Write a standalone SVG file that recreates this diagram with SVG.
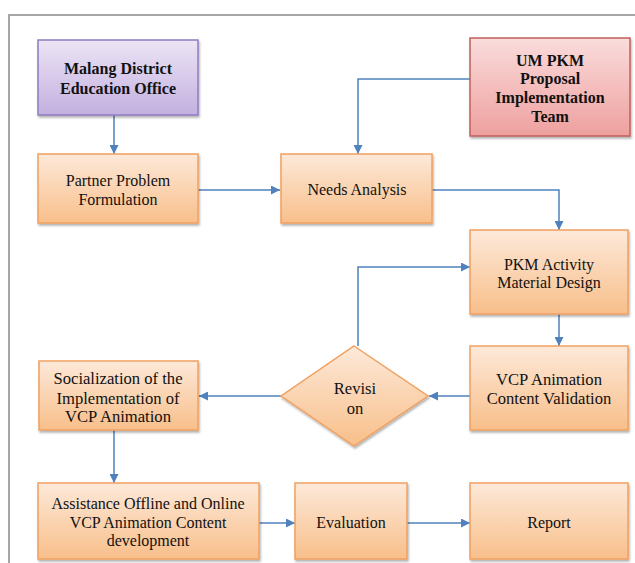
<svg xmlns="http://www.w3.org/2000/svg" width="635" height="563" viewBox="0 0 635 563">
<defs>
<linearGradient id="gO" x1="0" y1="0" x2="0" y2="1"><stop offset="0" stop-color="#fde9d9"/><stop offset="1" stop-color="#f8bf8a"/></linearGradient>
<linearGradient id="gP" x1="0" y1="0" x2="0" y2="1"><stop offset="0" stop-color="#ece4f5"/><stop offset="1" stop-color="#c3b0df"/></linearGradient>
<linearGradient id="gR" x1="0" y1="0" x2="0" y2="1"><stop offset="0" stop-color="#fadcdc"/><stop offset="1" stop-color="#eea09e"/></linearGradient>
<filter id="sh" x="-10%" y="-10%" width="120%" height="130%"><feDropShadow dx="1" dy="2" stdDeviation="1.2" flood-color="#000" flood-opacity="0.3"/></filter>
<marker id="ah" viewBox="0 0 10 10" refX="10" refY="5" markerWidth="9" markerHeight="9" markerUnits="userSpaceOnUse" orient="auto"><path d="M0,0 L10,5 L0,10 z" fill="#4f81bd"/></marker>
</defs>
<style>
.o{fill:url(#gO);stroke:#f0a060;stroke-width:1.5;filter:url(#sh)}
.p{fill:url(#gP);stroke:#8f7cc0;stroke-width:1.5;filter:url(#sh)}
.r{fill:url(#gR);stroke:#c0605c;stroke-width:1.5;filter:url(#sh)}
text{font-family:'Liberation Serif',serif;font-size:16px;fill:#111;text-anchor:middle}
.b{font-weight:bold}
.l{font-size:16.6px}
.c{fill:none;stroke:#4f81bd;stroke-width:1.5;marker-end:url(#ah)}
</style>
<rect width="635" height="563" fill="#fff"/>
<path d="M9,563 V15 H635" fill="none" stroke="#a6a6a6" stroke-width="2"/>
<g id="connectors">
<path class="c" d="M114,115 V154"/>
<path class="c" d="M470,79 H358 V154"/>
<path class="c" d="M198,190 H280"/>
<path class="c" d="M432,190 H559 V230"/>
<path class="c" d="M559,314 V346"/>
<path class="c" d="M470,396 H429"/>
<path class="c" d="M281,396 H199"/>
<path class="c" d="M358,346 V267 H470"/>
<path class="c" d="M114,430 V483"/>
<path class="c" d="M259,523 H295"/>
<path class="c" d="M407,523 H470"/>
</g>
<g id="malang"><rect class="p" x="38" y="40" width="160" height="75"/><text class="b" x="118" y="74">Malang District</text><text class="b" x="118" y="94">Education Office</text></g>
<g id="umpkm"><rect class="r" x="470" y="38" width="160" height="98"/><text class="b" x="550" y="66">UM PKM</text><text class="b" x="550" y="84">Proposal</text><text class="b" x="550" y="103">Implementation</text><text class="b" x="550" y="122">Team</text></g>
<g id="partner"><rect class="o" x="38" y="154" width="160" height="69"/><text x="118" y="186">Partner Problem</text><text x="118" y="205">Formulation</text></g>
<g id="needs"><rect class="o" x="281" y="154" width="151" height="69"/><text x="357" y="195">Needs Analysis</text></g>
<g id="pkm"><rect class="o" x="470" y="230" width="158" height="84"/><text x="549" y="270">PKM Activity</text><text x="549" y="288">Material Design</text></g>
<g id="validation"><rect class="o" x="470" y="346" width="158" height="84"/><text class="l" x="549" y="385">VCP Animation</text><text class="l" x="549" y="404">Content Validation</text></g>
<g id="revision"><polygon class="o" points="354,346 428,396 354,446 281,396"/><text class="l" x="355" y="394">Revisi</text><text class="l" x="355" y="414">on</text></g>
<g id="socialization"><rect class="o" x="39" y="361" width="159" height="69"/><text class="l" x="118" y="384">Socialization of the</text><text class="l" x="118" y="404">Implementation of</text><text class="l" x="118" y="422">VCP Animation</text></g>
<g id="assistance"><rect class="o" x="38" y="483" width="221" height="76"/><text x="148" y="509">Assistance Offline and Online</text><text x="148" y="528">VCP Animation Content</text><text x="148" y="546">development</text></g>
<g id="evaluation"><rect class="o" x="295" y="483" width="112" height="76"/><text x="351" y="528">Evaluation</text></g>
<g id="report"><rect class="o" x="470" y="483" width="158" height="76"/><text x="549" y="528">Report</text></g>
</svg>
